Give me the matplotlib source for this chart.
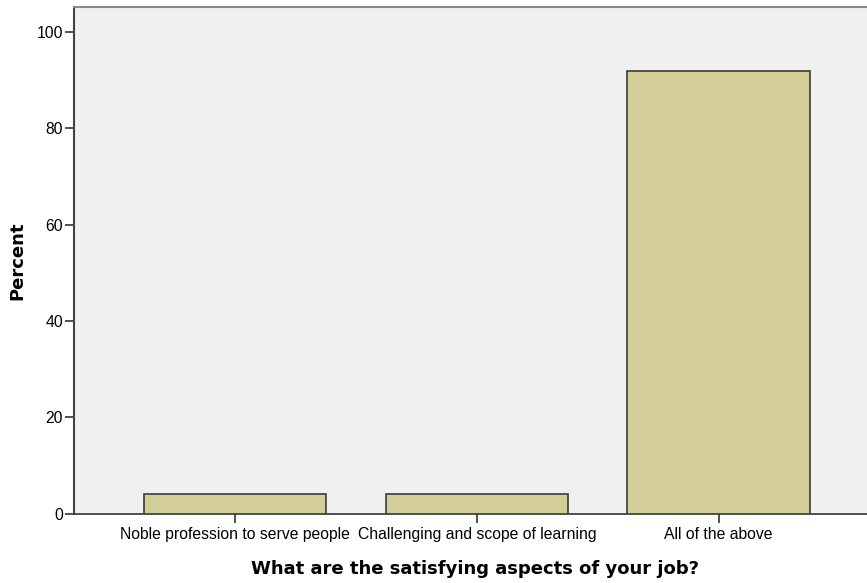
import matplotlib
matplotlib.use('Agg')
import matplotlib.pyplot as plt

# Data
categories = ['Noble profession to serve people', 'Challenging and scope of learning', 'All of the above']
percent = [4, 4, 92]

fig = plt.figure(figsize=(8.67, 5.83), dpi=100)
ax = fig.add_axes([74/867, 1 - 513.5/583, 1 - 74/867 + 0.01, (513.5 - 7)/583])
ax.set_facecolor('#F0F0F0')

ax.bar(range(len(categories)), percent, width=0.754, color='#D3CE97',
       edgecolor='#3a3a3a', linewidth=1.2, zorder=3)

ax.set_xlim(-0.667, 2.65)
ax.set_ylim(0, 105.2)
ax.set_yticks([0, 20, 40, 60, 80, 100])
ax.set_xticks(range(len(categories)))
ax.set_xticklabels(categories, family='Liberation Sans', fontsize=11.3)
for t in ax.get_yticklabels():
    t.set_family('Liberation Sans')
    t.set_fontsize(11.3)
ax.tick_params(axis='both', length=6.5, width=1.2, color='#333333', pad=1.5)
ax.tick_params(axis='x', pad=3.5)

ax.spines['left'].set_color('#444444')
ax.spines['left'].set_linewidth(1.5)
ax.spines['bottom'].set_color('#333333')
ax.spines['bottom'].set_linewidth(1.2)
ax.spines['top'].set_color('#888888')
ax.spines['top'].set_linewidth(1.5)
ax.spines['right'].set_visible(False)

ax.set_ylabel('Percent', fontsize=13, fontweight='bold', labelpad=7)
ax.set_xlabel('What are the satisfying aspects of your job?', fontsize=13,
              fontweight='bold', labelpad=13)

fig.savefig('out.png', dpi=100)
